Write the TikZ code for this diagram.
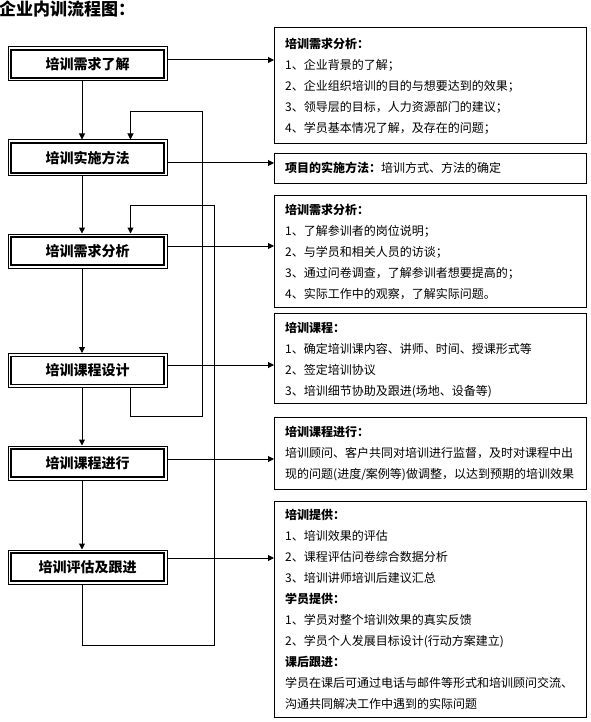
\documentclass[tikz,border=0pt]{standalone}
\usepackage{fontspec}
\setmainfont{Noto Sans CJK SC}
\usetikzlibrary{arrows.meta}
\begin{document}
\begin{tikzpicture}[x=1pt,y=-1pt,
  lbox/.style={draw, line width=1pt, minimum width=159pt, minimum height=34pt, inner sep=0pt, font=\fontsize{14}{16}\selectfont\bfseries},
  rbox/.style={draw, line width=1pt, anchor=north west, inner sep=0pt, minimum width=312pt},
  rtext/.style={anchor=north west, inner sep=0pt, align=left, font=\fontsize{12}{21}\selectfont},
  arr/.style={line width=1pt, -{Triangle[length=6pt,width=6pt]}},
  innerframe/.style={line width=1.6pt}]
\useasboundingbox (0,0) rectangle (590,722);
\node[anchor=west, inner sep=0pt, font=\fontsize{17}{19}\selectfont\bfseries] (title) at (-1,9) {企业内训流程图：};
% left boxes
\node[lbox] (b1) at (87.5,64) {培训需求了解};
\node[lbox, minimum height=36pt] (b2) at (87.5,158) {培训实施方法};
\node[lbox] (b3) at (87.5,251) {培训需求分析};
\node[lbox] (b4) at (87.5,370.5) {培训课程设计};
\node[lbox] (b5) at (87.5,463) {培训课程进行};
\node[lbox] (b6) at (87.5,567) {培训评估及跟进};
\foreach \n in {b1,b2,b3,b4,b5,b6}
  \draw[innerframe] ([xshift=3.5pt,yshift=-3.5pt]\n.north west) rectangle ([xshift=-3.5pt,yshift=3.5pt]\n.south east);
% right boxes
\node[rbox, minimum height=116pt] (r1) at (274,27) {};
\node[rbox, minimum height=30pt] (r2) at (274,153) {};
\node[rbox, minimum height=112pt] (r3) at (274,195) {};
\node[rbox, minimum height=90pt] (r4) at (274,313) {};
\node[rbox, minimum height=72pt] (r5) at (274,417) {};
\node[rbox, minimum height=216pt] (r6) at (274,501) {};
% right texts
\node[rtext] (t1) at (285,38) {{\bfseries 培训需求分析：}\\1、企业背景的了解；\\2、企业组织培训的目的与想要达到的效果；\\3、领导层的目标，人力资源部门的建议；\\4、学员基本情况了解，及存在的问题；};
\node[rtext] (t2) at (285,162) {{\bfseries 项目的实施方法：}培训方式、方法的确定};
\node[rtext] (t3) at (285,204) {{\bfseries 培训需求分析：}\\1、了解参训者的岗位说明；\\2、与学员和相关人员的访谈；\\3、通过问卷调查，了解参训者想要提高的；\\4、实际工作中的观察，了解实际问题。};
\node[rtext] (t4) at (285,322) {{\bfseries 培训课程：}\\1、确定培训课内容、讲师、时间、授课形式等\\2、签定培训协议\\3、培训细节协助及跟进(场地、设备等)};
\node[rtext] (t5) at (285,426) {{\bfseries 培训课程进行：}\\培训顾问、客户共同对培训进行监督，及时对课程中出\\现的问题(进度/案例等)做调整，以达到预期的培训效果};
\node[rtext] (t6) at (285,509) {{\bfseries 培训提供：}\\1、培训效果的评估\\2、课程评估问卷综合数据分析\\3、培训讲师培训后建议汇总\\{\bfseries 学员提供：}\\1、学员对整个培训效果的真实反馈\\2、学员个人发展目标设计(行动方案建立)\\{\bfseries 课后跟进：}\\学员在课后可通过电话与邮件等形式和培训顾问交流、\\沟通共同解决工作中遇到的实际问题};
% helper coordinates
\coordinate (vx) at (82,0);
\coordinate (fx) at (130.5,0);
\coordinate (a1) at (0,60);
\coordinate (a2) at (0,163);
\coordinate (a3) at (0,246);
\coordinate (a4) at (0,365);
\coordinate (a5) at (0,459);
\coordinate (a6) at (0,558);
\coordinate (L1a) at (130.5,416);
\coordinate (L1b) at (202,112);
\coordinate (L2a) at (82,645);
\coordinate (L2b) at (214,205);
% vertical flow
\draw[arr] (b1.south -| vx) -- (b2.north -| vx);
\draw[arr] (b2.south -| vx) -- (b3.north -| vx);
\draw[arr] (b3.south -| vx) -- (b4.north -| vx);
\draw[arr] (b4.south -| vx) -- (b5.north -| vx);
\draw[arr] (b5.south -| vx) -- (b6.north -| vx);
% horizontal arrows
\draw[arr] (b1.east |- a1) -- (r1.west |- a1);
\draw[arr] (b2.east |- a2) -- (r2.west |- a2);
\draw[arr] (b3.east |- a3) -- (r3.west |- a3);
\draw[arr] (b4.east |- a4) -- (r4.west |- a4);
\draw[arr] (b5.east |- a5) -- (r5.west |- a5);
\draw[arr] (b6.east |- a6) -- (r6.west |- a6);
% feedback loops
\draw[arr] (b4.south -| fx) -- (L1a) -| (L1b) -| (b2.north -| fx);
\draw[arr] (b6.south -| vx) -- (L2a) -| (L2b) -| (b3.north -| fx);
\end{tikzpicture}
\end{document}
